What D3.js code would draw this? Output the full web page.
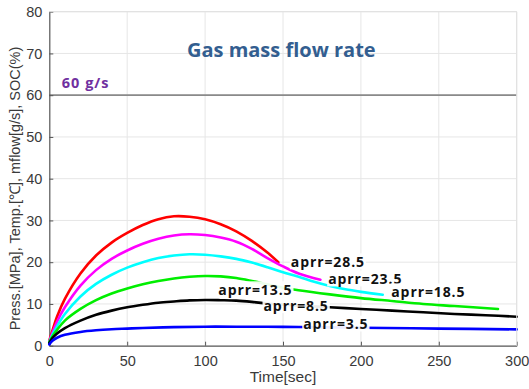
<!DOCTYPE html>
<html><head><meta charset="utf-8">
<script src="https://cdn.jsdelivr.net/npm/d3@7"></script>
<style>
html,body{margin:0;padding:0;background:#fff;}
svg{display:block;}
</style></head>
<body>
<svg id="c" width="529" height="389"></svg>
<script>
// ---- data ----
const xTicks = [0, 50, 100, 150, 200, 250, 300];
const yTicks = [0, 10, 20, 30, 40, 50, 60, 70, 80];

const t28 = [0, 2, 5, 10, 20, 30, 40, 50, 60, 70, 80, 90, 100, 110, 120, 130, 140, 147];
const v28 = [1.2, 3.6, 7.0, 11.2, 17.3, 21.6, 24.7, 27.0, 28.9, 30.3, 31.0, 30.9, 30.3, 29.1, 27.4, 25.1, 22.3, 20.0];

const t23 = [0, 2, 5, 10, 20, 30, 40, 50, 60, 70, 80, 90, 100, 110, 120, 130, 140, 150, 160, 174];
const v23 = [1.0, 3.1, 5.8, 9.2, 14.4, 18.1, 20.8, 22.8, 24.4, 25.6, 26.4, 26.7, 26.5, 25.9, 24.9, 23.2, 21.0, 19.0, 17.3, 15.8];

const t18 = [0, 2, 5, 10, 20, 30, 40, 50, 60, 70, 80, 90, 100, 110, 120, 130, 140, 150, 160, 170, 180, 190, 200, 214];
const v18 = [0.9, 2.6, 4.7, 7.6, 11.8, 14.8, 17.0, 18.7, 20.0, 21.0, 21.6, 21.9, 21.8, 21.4, 20.8, 19.9, 18.8, 17.6, 16.5, 15.3, 14.3, 13.5, 12.9, 12.2];

const t13 = [0, 2, 5, 10, 20, 30, 40, 50, 60, 70, 80, 90, 100, 110, 120, 130, 140, 150, 160, 180, 200, 220, 240, 260, 288];
const v13 = [0.8, 2.2, 3.8, 6.0, 8.8, 10.9, 12.5, 13.7, 14.7, 15.5, 16.1, 16.5, 16.7, 16.6, 16.2, 15.5, 14.7, 13.9, 13.3, 12.3, 11.4, 10.7, 10.0, 9.5, 8.8];

const t8 = [0, 2, 5, 10, 20, 30, 40, 50, 60, 70, 80, 90, 100, 110, 120, 130, 140, 160, 180, 200, 220, 240, 260, 280, 300];
const v8 = [0.6, 1.8, 2.9, 4.2, 6.0, 7.4, 8.4, 9.2, 9.8, 10.3, 10.6, 10.85, 10.95, 10.9, 10.8, 10.5, 10.1, 9.6, 9.2, 8.8, 8.4, 8.0, 7.6, 7.3, 6.95];

const t3 = [0, 2, 5, 10, 20, 30, 40, 50, 60, 80, 100, 120, 150, 180, 200, 250, 300];
const v3 = [0.3, 1.2, 1.9, 2.6, 3.3, 3.7, 3.95, 4.1, 4.25, 4.45, 4.55, 4.55, 4.5, 4.4, 4.3, 4.1, 3.9];

const seriesLabels = ["aprr=28.5", "aprr=23.5", "aprr=18.5", "aprr=13.5", "aprr=8.5", "aprr=3.5"];
const seriesColors = ["#ff0000", "#ff00ff", "#00ffff", "#00ee00", "#000000", "#0000ff"];
const seriesT = [t28, t23, t18, t13, t8, t3];
const seriesV = [v28, v23, v18, v13, v8, v3];
// label anchors in data units (time, value)
const labelT = [155, 179, 219.5, 108.5, 137.5, 163];
const labelV = [20.1, 16.0, 12.9, 13.4, 9.6, 5.2];

const refValue = 60;
const refLabel = "60 g/s";
const titleText = "Gas mass flow rate";
const xTitle = "Time[sec]";
const yTitle = "Press.[MPa], Temp.[℃], mflow[g/s], SOC(%)";

// ---- drawing ----
const svg = d3.select("#c");
const x = d3.scaleLinear().domain([0, 300]).range([49.3, 516.7]);
const y = d3.scaleLinear().domain([0, 80]).range([345.7, 11.7]);

const grid = svg.append("g");
grid.selectAll("line.v").data(xTicks.slice(1)).join("line")
  .attr("x1", d => x(d)).attr("x2", d => x(d)).attr("y1", y(0)).attr("y2", y(80))
  .attr("stroke", "#e6e6e6").attr("stroke-width", 1);
grid.selectAll("line.h").data(yTicks.slice(1)).join("line")
  .attr("x1", x(0)).attr("x2", x(300)).attr("y1", d => y(d)).attr("y2", d => y(d))
  .attr("stroke", "#e6e6e6").attr("stroke-width", 1);

// reference line
svg.append("line").attr("x1", x(0)).attr("x2", x(300)).attr("y1", y(refValue)).attr("y2", y(refValue))
  .attr("stroke", "#8a8a8a").attr("stroke-width", 1.8);

// axes
const xAxis = d3.axisBottom(x).tickValues(xTicks).tickSizeInner(-4).tickSizeOuter(0).tickPadding(10);
const yAxis = d3.axisLeft(y).tickValues(yTicks).tickSizeInner(-4).tickSizeOuter(0).tickPadding(7);
const gx = svg.append("g").attr("transform", `translate(0,${y(0)})`).call(xAxis);
const gy = svg.append("g").attr("transform", `translate(${x(0)},0)`).call(yAxis);
[gx, gy].forEach(g => {
  g.select(".domain").attr("stroke", "#555").attr("stroke-width", 1.2);
  g.selectAll(".tick line").attr("stroke", "#555");
  g.selectAll(".tick text").attr("fill", "#3a3a3a")
    .style("font-family", "'Liberation Sans', Arial, sans-serif").style("font-size", "14.5px");
});
gx.selectAll(".tick text").attr("dy", "0.71em");

// series lines
const line = d3.line().x(d => x(d[0])).y(d => y(d[1])).curve(d3.curveCatmullRom.alpha(0.5));
seriesT.forEach((ts, i) => {
  const pts = ts.map((t, j) => [t, seriesV[i][j]]);
  svg.append("path").datum(pts).attr("d", line)
    .attr("fill", "none").attr("stroke", seriesColors[i]).attr("stroke-width", 2.6)
    .attr("stroke-linejoin", "round").attr("stroke-linecap", "round");
});

// labels with white boxes
const lblG = svg.append("g");
seriesLabels.forEach((s, i) => {
  const g = lblG.append("g");
  const txt = g.append("text").text(s)
    .attr("x", x(labelT[i])).attr("y", y(labelV[i])).attr("dy", "0.36em")
    .style("font-family", "'Open Sans', sans-serif").style("font-weight", "700")
    .style("font-size", "14px").style("letter-spacing", "0.9px").attr("fill", "#111");
  const bb = txt.node().getBBox();
  g.insert("rect", "text").attr("x", bb.x - 1).attr("y", bb.y + 1.5).attr("width", bb.width + 2).attr("height", bb.height - 3)
    .attr("fill", "#fff").attr("fill-opacity", 0.92);
});

// reference label
svg.append("text").text(refLabel).attr("x", x(0) + 12.5).attr("y", 88.3)
  .style("font-family", "'Open Sans', sans-serif").style("font-weight", "700")
  .style("font-size", "14.5px").style("letter-spacing", "1px").attr("fill", "#7030a0");

// title
svg.append("text").text(titleText).attr("x", 281.3).attr("y", 56.5).attr("text-anchor", "middle")
  .style("font-family", "'Open Sans', sans-serif").style("font-weight", "700")
  .style("font-size", "20px").attr("fill", "#335e90");

// axis titles
svg.append("text").text(xTitle).attr("x", 283).attr("y", 381.5).attr("text-anchor", "middle")
  .style("font-family", "'Liberation Sans', Arial, sans-serif").style("font-size", "15.5px").attr("fill", "#3a3a3a");
svg.append("text").text(yTitle).attr("transform", "translate(19.5,188.5) rotate(-90)").attr("text-anchor", "middle")
  .style("font-family", "'Liberation Sans', Arial, sans-serif").style("font-size", "14.5px").attr("fill", "#3a3a3a");

// top/right border
svg.append("line").attr("x1", x(0)).attr("x2", x(300)).attr("y1", y(80)).attr("y2", y(80)).attr("stroke", "#e0e0e0");
svg.append("line").attr("x1", x(300)).attr("x2", x(300)).attr("y1", y(80)).attr("y2", y(0)).attr("stroke", "#e0e0e0");
</script>
</body></html>
